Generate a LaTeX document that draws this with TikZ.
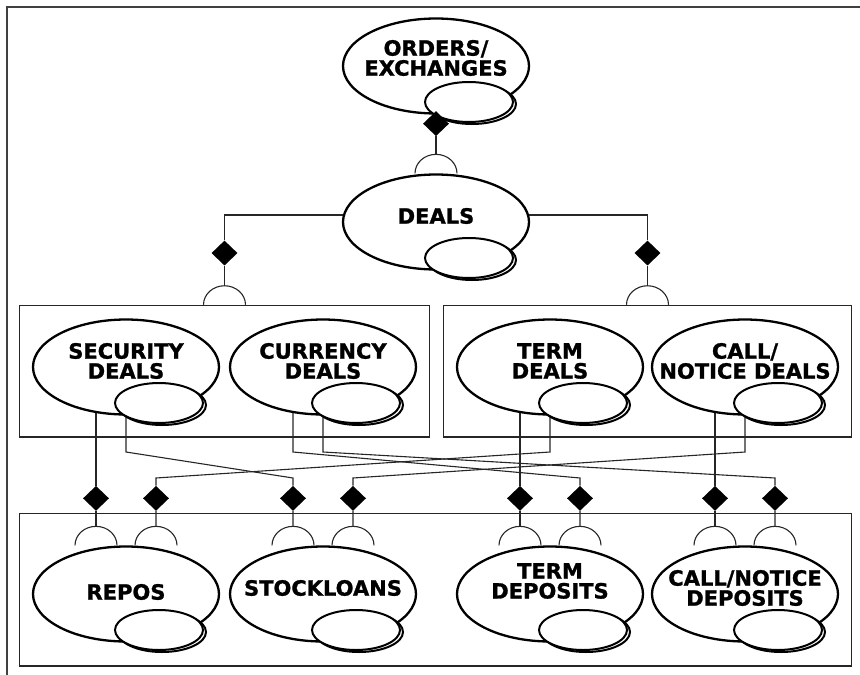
\documentclass[tikz,border=0pt]{standalone}
\usepackage{fontspec}
\setmainfont{DejaVu Sans}[BoldFeatures={FakeBold=1.2}]
\usetikzlibrary{positioning, fit, shapes.geometric, backgrounds}

\begin{document}
\begin{tikzpicture}
    [
        x=1pt, y=1pt, on grid,
        entity/.style={ellipse, draw=black, fill=white, line width=2.3pt, minimum width=186pt, minimum height=95pt, inner sep=0pt},
        entity_text/.style={align=center, inner sep=0pt, yshift=6pt, font=\fontsize{21}{20}\selectfont\bfseries},
        sub_entity/.style={ellipse, draw=black, fill=white, line width=2pt, minimum width=88pt, minimum height=40pt, inner sep=0pt},
        link/.style={diamond, fill=black, inner sep=0pt, minimum width=26pt, minimum height=25pt},
        group_box/.style={rectangle, draw=black!85, line width=1.2pt, inner xsep=12pt, inner ysep=13pt},
        connector/.style={line width=1.1pt, color=black!85},
        frame_line/.style={line width=1.4pt, color=black!75},
        cup/.pic={\draw[connector] (-21,0) arc[start angle=180, end angle=0, x radius=21, y radius=19];},
    ]
        \useasboundingbox (0,0) rectangle (860,-675);
        \draw[frame_line] (7,-675) -- (7,-7) -- (860,-7);

        % entities
        \node[entity, label={[entity_text, yshift=2pt]center:{ORDERS/\\EXCHANGES}}] (orders) at (436,-66) {};
        \node[entity, label={[entity_text]center:DEALS}] (deals) [below=156pt of orders] {};
        \node[entity, label={[entity_text]center:{SECURITY\\DEALS}}] (sec) at (126,-367) {};
        \node[entity, label={[entity_text]center:{CURRENCY\\DEALS}}] (cur) [right=197pt of sec] {};
        \node[entity, label={[entity_text]center:{TERM\\DEALS}}] (term) [right=227pt of cur] {};
        \node[entity, label={[entity_text]center:{CALL/\\NOTICE DEALS}}] (call) [right=195pt of term] {};
        \node[entity, label={[entity_text, yshift=-4pt]center:REPOS}] (repos) [below=227pt of sec] {};
        \node[entity, label={[entity_text]center:STOCKLOANS}] (stock) [below=227pt of cur] {};
        \node[entity, label={[entity_text, yshift=7pt]center:{TERM\\DEPOSITS}}] (tdep) [below=227pt of term] {};
        \node[entity, label={[entity_text]center:{CALL/NOTICE\\DEPOSITS}}] (cdep) [below=227pt of call] {};
        \foreach \n in {orders, deals, sec, cur, term, call, repos, stock, tdep, cdep} {
            \node[sub_entity] (\n-shade) at ([shift={(36,-38)}]\n.center) {};
            \node[sub_entity] (\n-sub) at ([shift={(33,-36)}]\n.center) {};
        }

        % links into the lower row
        \foreach \n in {repos, stock, tdep, cdep} {
            \node[link] (\n-dl) at ([shift={(-30,47)}]\n.north) {};
            \node[link] (\n-dr) at ([shift={(30,47)}]\n.north) {};
            \pic at ([xshift=-30pt]\n.north) {cup};
            \pic at ([xshift=30pt]\n.north) {cup};
            \coordinate (\n-cl) at ([shift={(-30,19)}]\n.north);
            \coordinate (\n-cr) at ([shift={(30,19)}]\n.north);
        }

        % groups
        \node[group_box, fit=(sec) (cur) (sec-sub)] (leftbox) {};
        \node[group_box, fit=(term) (call) (term-sub)] (rightbox) {};
        \node[group_box, fit=(repos) (cdep) (cdep-shade) (repos-cl)] (depbox) {};

        % links into the upper parts
        \node[link] (deals-link) [above=37pt of deals.north] {};
        \pic at (deals.north) {cup};
        \coordinate (deals-cup) at ([yshift=19pt]deals.north);
        \node[link] (leftbox-link) [above=39pt of leftbox.north] {};
        \pic at (leftbox.north) {cup};
        \coordinate (leftbox-cup) at ([yshift=19pt]leftbox.north);
        \node[link] (rightbox-link) [above=39pt of rightbox.north] {};
        \pic at (rightbox.north) {cup};
        \coordinate (rightbox-cup) at ([yshift=19pt]rightbox.north);

        \coordinate (bend-top) at (0,-452);
        \coordinate (bend-low) at (0,-478);

        \begin{scope}[on background layer]
            \draw[connector] (orders.center) -- (deals-link) -- (deals-cup);
            \draw[connector] ([yshift=7pt]deals.center) -| (leftbox-link) -- (leftbox-cup);
            \draw[connector] ([yshift=7pt]deals.center) -| (rightbox-link) -- (rightbox-cup);
            \draw[connector] ([xshift=-30pt]sec.center) -- (repos-dl) -- (repos-cl);
            \draw[connector] (sec.center) -- (sec.center |- bend-top) -- (stock-dl |- bend-low) -- (stock-dl) -- (stock-cl);
            \draw[connector] ([xshift=-30pt]cur.center) -- ([xshift=-30pt]cur.center |- bend-top) -- (tdep-dr |- bend-low) -- (tdep-dr) -- (tdep-cr);
            \draw[connector] (cur.center) -- (cur.center |- bend-top) -- (cdep-dr |- bend-low) -- (cdep-dr) -- (cdep-cr);
            \draw[connector] ([xshift=-30pt]term.center) -- (tdep-dl) -- (tdep-cl);
            \draw[connector] (term.center) -- (term.center |- bend-top) -- (repos-dr |- bend-low) -- (repos-dr) -- (repos-cr);
            \draw[connector] ([xshift=-30pt]call.center) -- (cdep-dl) -- (cdep-cl);
            \draw[connector] (call.center) -- (call.center |- bend-top) -- (stock-dr |- bend-low) -- (stock-dr) -- (stock-cr);
        \end{scope}
    \end{tikzpicture}
\end{document}
